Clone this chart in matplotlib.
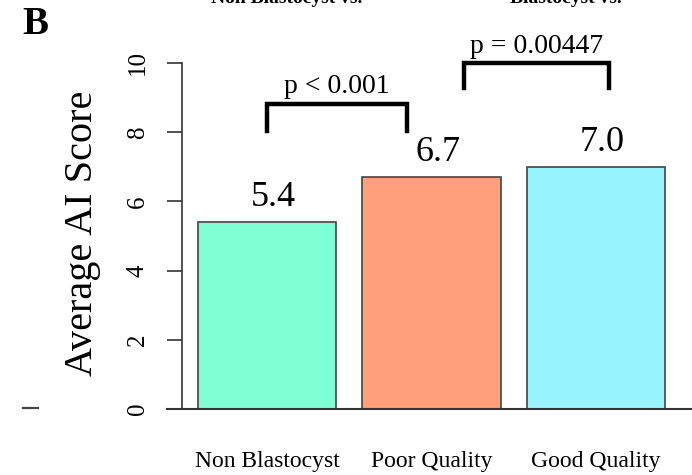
import matplotlib.pyplot as plt
from matplotlib.lines import Line2D

# mean AI score per embryo group
groups = ['Non Blastocyst', 'Poor Quality', 'Good Quality']
scores = [5.4, 6.7, 7.0]
bar_colors = ['#7FFFD4', '#FFA07A', '#98F5FF']

# significance brackets: (left x, right x, top, leg bottom, label)
bracket_x = [(0.0, 0.85), (1.195, 2.08)]
bracket_top = [8.82, 10.0]
bracket_low = [8.03, 9.28]
bracket_text = ['p < 0.001', 'p = 0.00447']

plt.rcParams['font.family'] = ['Liberation Serif', 'DejaVu Serif']

fig = plt.figure(figsize=(6.92, 4.75), dpi=100)
ax = fig.add_axes([182 / 692, 66 / 475, 510 / 692, 409 / 475])

x = list(range(len(groups)))
ax.bar(x, scores, width=0.84, color=bar_colors, edgecolor='#444444', linewidth=1.2)

for xi, s in zip(x, scores):
    ax.text(xi + 0.04, s + 0.46, f'{s:.1f}', ha='center', va='baseline', fontsize=26)

for (x0, x1), top, low, label in zip(bracket_x, bracket_top, bracket_low, bracket_text):
    ax.plot([x0, x0, x1, x1], [low, top, top, low], color='black', lw=3.2,
            solid_joinstyle='miter', clip_on=False)
    ax.text((x0 + x1) / 2, top + 0.3, label, ha='center', va='baseline', fontsize=20)

ax.set_xlim(-0.518, 2.585)
ax.set_ylim(0, 11.82)

for side in ['top', 'right', 'bottom']:
    ax.spines[side].set_visible(False)
ax.spines['left'].set_bounds(0, 10)
ax.spines['left'].set_color('#333333')
ax.spines['left'].set_linewidth(1.2)
ax.axhline(0, xmin=-0.03, xmax=1.0, color='#333333', lw=1.5, clip_on=False)

ax.set_yticks([0, 2, 4, 6, 8, 10])
ax.tick_params(axis='y', length=11, width=1.2, color='#333333', pad=13, labelsize=18)
for lab in ax.get_yticklabels():
    lab.set_rotation(90)
    lab.set_va('center')

ax.set_xticks(x)
ax.set_xticklabels(groups)
ax.tick_params(axis='x', length=0, pad=30, labelsize=17)

ax.text(-0.196, 0.43, 'Average AI Score', transform=ax.transAxes, rotation=90,
        ha='center', va='center', fontsize=29)

# panel letter and the group titles cut at the top edge
fig.text(22 / 692, 1 - 6 / 475, 'B', ha='left', va='top', fontsize=28, fontweight='bold')
fig.text(287 / 692, 1 - 3 / 475, 'Non Blastocyst vs.', ha='center', va='baseline',
         fontsize=14, fontweight='bold')
fig.text(566 / 692, 1 - 3 / 475, 'Blastocyst vs.', ha='center', va='baseline',
         fontsize=14, fontweight='bold')
fig.add_artist(Line2D([23 / 692, 38 / 692], [67 / 475, 67 / 475], color='#444444', lw=1.6))

fig.savefig('out.png', dpi=100)
